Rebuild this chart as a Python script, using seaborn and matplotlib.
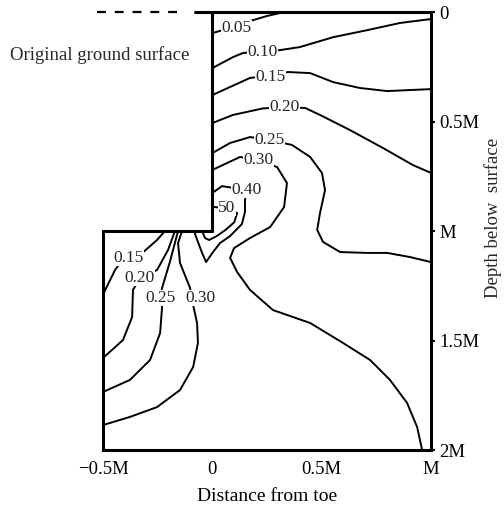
import matplotlib
matplotlib.use("Agg")
import matplotlib.pyplot as plt
import pandas as pd
import seaborn as sns

# Contour lines of the ratio.
# x = distance from toe (in M), d = depth below surface (in M)
c005_x = [0.0, 0.05, 0.108, 0.16, 0.25, 0.33]
c005_d = [0.096, 0.082, 0.068, 0.045, 0.018, 0.0]

c010_x = [0.0, 0.094, 0.14, 0.227, 0.309, 0.40, 0.552, 0.707, 0.858, 1.0]
c010_d = [0.256, 0.206, 0.187, 0.180, 0.174, 0.160, 0.115, 0.083, 0.050, 0.032]

c015_x = [0.0, 0.172, 0.264, 0.346, 0.447, 0.552, 0.675, 0.799, 1.0]
c015_d = [0.379, 0.301, 0.290, 0.274, 0.279, 0.320, 0.347, 0.361, 0.352]

c020_x = [0.0, 0.094, 0.232, 0.328, 0.424, 0.492, 0.629, 0.780, 0.917, 1.0]
c020_d = [0.507, 0.470, 0.440, 0.436, 0.438, 0.470, 0.539, 0.621, 0.699, 0.735]

c025_x = [0.0, 0.081, 0.172, 0.259, 0.364, 0.447, 0.501, 0.515, 0.492, 0.479,
          0.506, 0.584, 0.707, 0.799, 0.904, 1.0]
c025_d = [0.644, 0.598, 0.571, 0.584, 0.607, 0.662, 0.735, 0.813, 0.918, 0.995,
          1.050, 1.096, 1.100, 1.100, 1.119, 1.142]

c030_x = [0.0, 0.126, 0.209, 0.296, 0.341, 0.328, 0.264, 0.172, 0.099, 0.081,
          0.113, 0.172, 0.277, 0.447, 0.597, 0.721, 0.812, 0.890, 0.936, 0.959]
c030_d = [0.721, 0.662, 0.676, 0.708, 0.781, 0.890, 0.982, 1.032, 1.078, 1.123,
          1.187, 1.269, 1.361, 1.420, 1.511, 1.589, 1.680, 1.785, 1.895, 2.0]

c040_x = [0.0, 0.044, 0.158, 0.149, 0.149, 0.135, 0.081, 0.035, 0.0, -0.029,
          -0.047, -0.066, -0.084]
c040_d = [0.826, 0.795, 0.813, 0.858, 0.913, 0.968, 1.023, 1.055, 1.100, 1.142,
          1.100, 1.050, 1.0]

c050_x = [0.0, 0.067, 0.113, 0.100, 0.060, 0.020, -0.015, -0.034, -0.047]
c050_d = [0.890, 0.895, 0.918, 0.960, 0.995, 1.023, 1.041, 1.032, 1.0]

# contours below the toe
c015b_x = [-0.217, -0.253, -0.317, -0.385, -0.422, -0.445, -0.5]
c015b_d = [1.0, 1.041, 1.097, 1.125, 1.146, 1.178, 1.29]

c020b_x = [-0.171, -0.203, -0.253, -0.331, -0.363, -0.367, -0.409, -0.5]
c020b_d = [1.0, 1.087, 1.178, 1.215, 1.269, 1.393, 1.498, 1.580]

c025b_x = [-0.157, -0.194, -0.230, -0.239, -0.230, -0.239, -0.285, -0.377, -0.5]
c025b_d = [1.0, 1.14, 1.26, 1.306, 1.347, 1.466, 1.589, 1.680, 1.735]

c030b_x = [-0.139, -0.157, -0.148, -0.102, -0.095, -0.070, -0.066, -0.088,
           -0.148, -0.253, -0.377, -0.5]
c030b_d = [1.0, 1.055, 1.146, 1.26, 1.306, 1.420, 1.511, 1.621, 1.726, 1.804,
           1.849, 1.886]

level_names = ["0.05", "0.10", "0.15", "0.20", "0.25", "0.30", "0.40", "50",
               "0.15", "0.20", "0.25", "0.30"]
label_x = [0.11, 0.227, 0.264, 0.328, 0.259, 0.209, 0.158, 0.067,
           -0.385, -0.331, -0.239, -0.056]
label_d = [0.075, 0.183, 0.297, 0.434, 0.584, 0.676, 0.813, 0.895,
           1.123, 1.215, 1.306, 1.306]

xs = [c005_x, c010_x, c015_x, c020_x, c025_x, c030_x, c040_x, c050_x,
      c015b_x, c020b_x, c025b_x, c030b_x]
ds = [c005_d, c010_d, c015_d, c020_d, c025_d, c030_d, c040_d, c050_d,
      c015b_d, c020b_d, c025b_d, c030b_d]

# axis ticks
x_ticks = [-0.5, 0.0, 0.5, 1.0]
x_ticklabels = ["\u22120.5M", "0", "0.5M", "M"]
y_ticks = [0.0, 0.5, 1.0, 1.5, 2.0]
y_ticklabels = ["0", "0.5M", "M", "1.5M", "2M"]

sns.set_theme(style="white")
plt.rcParams['font.family'] = ['Liberation Serif', 'DejaVu Serif']

fig = plt.figure(figsize=(5.04, 5.07), dpi=100)
ax = fig.add_axes([0.2044, 0.1124, 0.651, 0.8639])

for i, (x, d) in enumerate(zip(xs, ds)):
    df = pd.DataFrame({"x": x, "d": d})
    sns.lineplot(data=df, x="x", y="d", sort=False, estimator=None,
                 color="black", linewidth=1.4, ax=ax)
    ax.text(label_x[i], label_d[i], level_names[i], fontsize=12.5,
            ha="center", va="center",
            bbox=dict(facecolor="white", edgecolor="none", pad=0.3))

# outline of the excavation
border_lw = 2.2
ax.plot([-0.079, 1.0], [0, 0], color="black", lw=border_lw, clip_on=False)
ax.plot([0, 0], [0, 1.0], color="black", lw=border_lw)
ax.plot([-0.5, 0], [1.0, 1.0], color="black", lw=border_lw, clip_on=False)
ax.plot([-0.5, -0.5], [1.0, 2.0], color="black", lw=border_lw, clip_on=False)
ax.plot([-0.527, -0.15], [0, 0], color="black", lw=1.6, ls=(0, (4, 4)),
        clip_on=False)
ax.text(-0.514, 0.196, "Original ground surface", fontsize=13.5,
        ha="center", va="center")

ax.set_xlim(-0.5, 1.0)
ax.set_ylim(2.0, 0.0)
for side in ["left", "top"]:
    ax.spines[side].set_visible(False)
for side in ["right", "bottom"]:
    ax.spines[side].set_linewidth(border_lw)
    ax.spines[side].set_color("black")

ax.yaxis.tick_right()
ax.set_yticks(y_ticks)
ax.set_yticklabels(y_ticklabels, fontsize=13.5)
ax.set_xticks(x_ticks)
ax.set_xticklabels(x_ticklabels, fontsize=13.5)
ax.tick_params(axis="y", direction="out", length=3, width=1.5, pad=3,
               colors="black")
ax.tick_params(axis="x", length=0, pad=8, colors="black")
ax.set_xlabel("Distance from toe", fontsize=14, labelpad=7, color="black")
ax.set_ylabel("")
ax.text(1.19, 0.53, "Depth below  surface", fontsize=13.5, rotation=90,
        ha="center", va="center", transform=ax.transAxes)
ax.grid(False)

fig.savefig("out.png", dpi=100)
